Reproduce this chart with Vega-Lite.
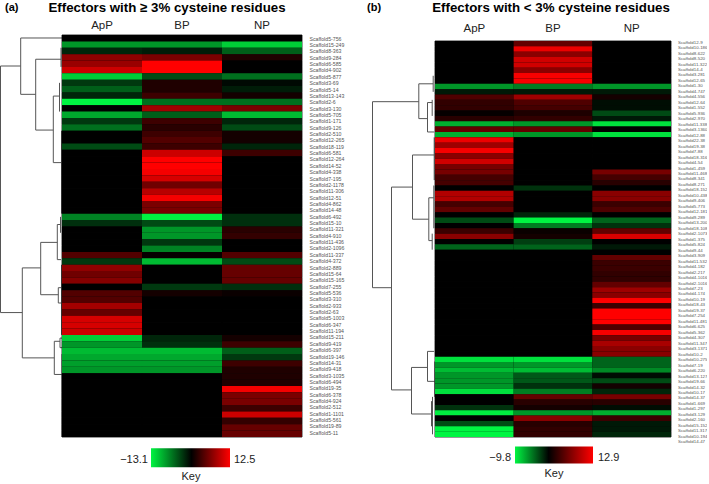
{"$schema":"https://vega.github.io/schema/vega-lite/v6.json","padding":{"left":0,"top":0,"right":0,"bottom":0},"background":"white","bounds":"flush","spacing":0,"resolve":{"scale":{"color":"independent"},"legend":{"color":"independent"}},"config":{"view":{"stroke":null},"font":"Liberation Sans"},
"datasets":{
"heatA":[
{"id":"Scaffold5-756","cond":"ApP","val":0},{"id":"Scaffold5-756","cond":"BP","val":0},{"id":"Scaffold5-756","cond":"NP","val":0},
{"id":"Scaffold15-249","cond":"ApP","val":-8},{"id":"Scaffold15-249","cond":"BP","val":-8},{"id":"Scaffold15-249","cond":"NP","val":-11},
{"id":"Scaffold8-363","cond":"ApP","val":-2},{"id":"Scaffold8-363","cond":"BP","val":-1.5},{"id":"Scaffold8-363","cond":"NP","val":-5},
{"id":"Scaffold9-284","cond":"ApP","val":7},{"id":"Scaffold9-284","cond":"BP","val":6},{"id":"Scaffold9-284","cond":"NP","val":1.5},
{"id":"Scaffold6-585","cond":"ApP","val":7.5},{"id":"Scaffold6-585","cond":"BP","val":12.5},{"id":"Scaffold6-585","cond":"NP","val":0},
{"id":"Scaffold4-902","cond":"ApP","val":10},{"id":"Scaffold4-902","cond":"BP","val":12.5},{"id":"Scaffold4-902","cond":"NP","val":0},
{"id":"Scaffold5-877","cond":"ApP","val":-11},{"id":"Scaffold5-877","cond":"BP","val":-4},{"id":"Scaffold5-877","cond":"NP","val":-6},
{"id":"Scaffold3-69","cond":"ApP","val":-3},{"id":"Scaffold3-69","cond":"BP","val":1.5},{"id":"Scaffold3-69","cond":"NP","val":-0.5},
{"id":"Scaffold5-14","cond":"ApP","val":-5},{"id":"Scaffold5-14","cond":"BP","val":1.5},{"id":"Scaffold5-14","cond":"NP","val":-1.5},
{"id":"Scaffold13-143","cond":"ApP","val":-2},{"id":"Scaffold13-143","cond":"BP","val":3},{"id":"Scaffold13-143","cond":"NP","val":1},
{"id":"Scaffold2-6","cond":"ApP","val":-13.1},{"id":"Scaffold2-6","cond":"BP","val":-6},{"id":"Scaffold2-6","cond":"NP","val":-6},
{"id":"Scaffold3-130","cond":"ApP","val":0},{"id":"Scaffold3-130","cond":"BP","val":8},{"id":"Scaffold3-130","cond":"NP","val":6},
{"id":"Scaffold5-705","cond":"ApP","val":-9},{"id":"Scaffold5-705","cond":"BP","val":-5},{"id":"Scaffold5-705","cond":"NP","val":-10},
{"id":"Scaffold1-171","cond":"ApP","val":-3},{"id":"Scaffold1-171","cond":"BP","val":3},{"id":"Scaffold1-171","cond":"NP","val":-2},
{"id":"Scaffold9-126","cond":"ApP","val":-6},{"id":"Scaffold9-126","cond":"BP","val":2},{"id":"Scaffold9-126","cond":"NP","val":-4},
{"id":"Scaffold2-510","cond":"ApP","val":0},{"id":"Scaffold2-510","cond":"BP","val":3},{"id":"Scaffold2-510","cond":"NP","val":1},
{"id":"Scaffold12-265","cond":"ApP","val":0},{"id":"Scaffold12-265","cond":"BP","val":4},{"id":"Scaffold12-265","cond":"NP","val":1},
{"id":"Scaffold18-119","cond":"ApP","val":-4},{"id":"Scaffold18-119","cond":"BP","val":3},{"id":"Scaffold18-119","cond":"NP","val":-2},
{"id":"Scaffold6-581","cond":"ApP","val":0},{"id":"Scaffold6-581","cond":"BP","val":10},{"id":"Scaffold6-581","cond":"NP","val":3},
{"id":"Scaffold12-264","cond":"ApP","val":0},{"id":"Scaffold12-264","cond":"BP","val":12.5},{"id":"Scaffold12-264","cond":"NP","val":0},
{"id":"Scaffold14-52","cond":"ApP","val":0},{"id":"Scaffold14-52","cond":"BP","val":12.5},{"id":"Scaffold14-52","cond":"NP","val":0},
{"id":"Scaffold4-338","cond":"ApP","val":0},{"id":"Scaffold4-338","cond":"BP","val":12},{"id":"Scaffold4-338","cond":"NP","val":0},
{"id":"Scaffold7-195","cond":"ApP","val":0},{"id":"Scaffold7-195","cond":"BP","val":10.5},{"id":"Scaffold7-195","cond":"NP","val":0},
{"id":"Scaffold2-1178","cond":"ApP","val":0},{"id":"Scaffold2-1178","cond":"BP","val":5.5},{"id":"Scaffold2-1178","cond":"NP","val":0},
{"id":"Scaffold11-306","cond":"ApP","val":0},{"id":"Scaffold11-306","cond":"BP","val":9},{"id":"Scaffold11-306","cond":"NP","val":0},
{"id":"Scaffold12-51","cond":"ApP","val":0},{"id":"Scaffold12-51","cond":"BP","val":12},{"id":"Scaffold12-51","cond":"NP","val":0},
{"id":"Scaffold4-862","cond":"ApP","val":0},{"id":"Scaffold4-862","cond":"BP","val":6},{"id":"Scaffold4-862","cond":"NP","val":0},
{"id":"Scaffold14-48","cond":"ApP","val":0},{"id":"Scaffold14-48","cond":"BP","val":6},{"id":"Scaffold14-48","cond":"NP","val":0},
{"id":"Scaffold6-492","cond":"ApP","val":-7},{"id":"Scaffold6-492","cond":"BP","val":-13},{"id":"Scaffold6-492","cond":"NP","val":-2.5},
{"id":"Scaffold15-10","cond":"ApP","val":-2.5},{"id":"Scaffold15-10","cond":"BP","val":-4},{"id":"Scaffold15-10","cond":"NP","val":-2.5},
{"id":"Scaffold11-321","cond":"ApP","val":0},{"id":"Scaffold11-321","cond":"BP","val":-8},{"id":"Scaffold11-321","cond":"NP","val":2},
{"id":"Scaffold4-910","cond":"ApP","val":0},{"id":"Scaffold4-910","cond":"BP","val":-8},{"id":"Scaffold4-910","cond":"NP","val":2.5},
{"id":"Scaffold11-436","cond":"ApP","val":0},{"id":"Scaffold11-436","cond":"BP","val":-3},{"id":"Scaffold11-436","cond":"NP","val":0},
{"id":"Scaffold2-1096","cond":"ApP","val":0},{"id":"Scaffold2-1096","cond":"BP","val":-7},{"id":"Scaffold2-1096","cond":"NP","val":0},
{"id":"Scaffold11-337","cond":"ApP","val":4},{"id":"Scaffold11-337","cond":"BP","val":0.3},{"id":"Scaffold11-337","cond":"NP","val":4},
{"id":"Scaffold4-372","cond":"ApP","val":-3},{"id":"Scaffold4-372","cond":"BP","val":-10},{"id":"Scaffold4-372","cond":"NP","val":-4},
{"id":"Scaffold2-889","cond":"ApP","val":7},{"id":"Scaffold2-889","cond":"BP","val":0},{"id":"Scaffold2-889","cond":"NP","val":5},
{"id":"Scaffold15-64","cond":"ApP","val":5.5},{"id":"Scaffold15-64","cond":"BP","val":0},{"id":"Scaffold15-64","cond":"NP","val":5},
{"id":"Scaffold15-165","cond":"ApP","val":6.5},{"id":"Scaffold15-165","cond":"BP","val":0},{"id":"Scaffold15-165","cond":"NP","val":5},
{"id":"Scaffold7-255","cond":"ApP","val":0},{"id":"Scaffold7-255","cond":"BP","val":-3},{"id":"Scaffold7-255","cond":"NP","val":-2.5},
{"id":"Scaffold5-536","cond":"ApP","val":4},{"id":"Scaffold5-536","cond":"BP","val":1},{"id":"Scaffold5-536","cond":"NP","val":0.5},
{"id":"Scaffold3-310","cond":"ApP","val":4},{"id":"Scaffold3-310","cond":"BP","val":0},{"id":"Scaffold3-310","cond":"NP","val":0},
{"id":"Scaffold2-933","cond":"ApP","val":8},{"id":"Scaffold2-933","cond":"BP","val":0},{"id":"Scaffold2-933","cond":"NP","val":0},
{"id":"Scaffold2-63","cond":"ApP","val":5},{"id":"Scaffold2-63","cond":"BP","val":0},{"id":"Scaffold2-63","cond":"NP","val":0},
{"id":"Scaffold5-1003","cond":"ApP","val":10.5},{"id":"Scaffold5-1003","cond":"BP","val":0},{"id":"Scaffold5-1003","cond":"NP","val":0},
{"id":"Scaffold6-347","cond":"ApP","val":10.5},{"id":"Scaffold6-347","cond":"BP","val":0},{"id":"Scaffold6-347","cond":"NP","val":0},
{"id":"Scaffold11-194","cond":"ApP","val":10},{"id":"Scaffold11-194","cond":"BP","val":0},{"id":"Scaffold11-194","cond":"NP","val":0},
{"id":"Scaffold15-211","cond":"ApP","val":-11},{"id":"Scaffold15-211","cond":"BP","val":-2},{"id":"Scaffold15-211","cond":"NP","val":1},
{"id":"Scaffold9-419","cond":"ApP","val":-8},{"id":"Scaffold9-419","cond":"BP","val":-2.5},{"id":"Scaffold9-419","cond":"NP","val":3},
{"id":"Scaffold6-397","cond":"ApP","val":-10},{"id":"Scaffold6-397","cond":"BP","val":-10},{"id":"Scaffold6-397","cond":"NP","val":-5},
{"id":"Scaffold19-146","cond":"ApP","val":-9},{"id":"Scaffold19-146","cond":"BP","val":-9},{"id":"Scaffold19-146","cond":"NP","val":-3},
{"id":"Scaffold14-31","cond":"ApP","val":-8.5},{"id":"Scaffold14-31","cond":"BP","val":-8.5},{"id":"Scaffold14-31","cond":"NP","val":3},
{"id":"Scaffold9-418","cond":"ApP","val":-8},{"id":"Scaffold9-418","cond":"BP","val":-8},{"id":"Scaffold9-418","cond":"NP","val":1.5},
{"id":"Scaffold3-1035","cond":"ApP","val":0},{"id":"Scaffold3-1035","cond":"BP","val":0},{"id":"Scaffold3-1035","cond":"NP","val":1.5},
{"id":"Scaffold6-494","cond":"ApP","val":0},{"id":"Scaffold6-494","cond":"BP","val":0},{"id":"Scaffold6-494","cond":"NP","val":1.5},
{"id":"Scaffold19-35","cond":"ApP","val":0},{"id":"Scaffold19-35","cond":"BP","val":0},{"id":"Scaffold19-35","cond":"NP","val":12},
{"id":"Scaffold6-378","cond":"ApP","val":0},{"id":"Scaffold6-378","cond":"BP","val":0},{"id":"Scaffold6-378","cond":"NP","val":6},
{"id":"Scaffold4-924","cond":"ApP","val":0},{"id":"Scaffold4-924","cond":"BP","val":0},{"id":"Scaffold4-924","cond":"NP","val":6},
{"id":"Scaffold2-512","cond":"ApP","val":0},{"id":"Scaffold2-512","cond":"BP","val":0},{"id":"Scaffold2-512","cond":"NP","val":3},
{"id":"Scaffold1-1101","cond":"ApP","val":0},{"id":"Scaffold1-1101","cond":"BP","val":0},{"id":"Scaffold1-1101","cond":"NP","val":10},
{"id":"Scaffold5-561","cond":"ApP","val":0},{"id":"Scaffold5-561","cond":"BP","val":0},{"id":"Scaffold5-561","cond":"NP","val":2.5},
{"id":"Scaffold19-89","cond":"ApP","val":0},{"id":"Scaffold19-89","cond":"BP","val":0},{"id":"Scaffold19-89","cond":"NP","val":5},
{"id":"Scaffold5-11","cond":"ApP","val":0},{"id":"Scaffold5-11","cond":"BP","val":0},{"id":"Scaffold5-11","cond":"NP","val":5}
],
"heatB":[
{"id":"Scaffold12-9","cond":"ApP","val":0},{"id":"Scaffold12-9","cond":"BP","val":5},{"id":"Scaffold12-9","cond":"NP","val":0},
{"id":"Scaffold10-186","cond":"ApP","val":0},{"id":"Scaffold10-186","cond":"BP","val":12},{"id":"Scaffold10-186","cond":"NP","val":0},
{"id":"Scaffold8-622","cond":"ApP","val":0},{"id":"Scaffold8-622","cond":"BP","val":7},{"id":"Scaffold8-622","cond":"NP","val":0},
{"id":"Scaffold8-520","cond":"ApP","val":0},{"id":"Scaffold8-520","cond":"BP","val":10.5},{"id":"Scaffold8-520","cond":"NP","val":0},
{"id":"Scaffold11-322","cond":"ApP","val":0},{"id":"Scaffold11-322","cond":"BP","val":10.5},{"id":"Scaffold11-322","cond":"NP","val":0},
{"id":"Scaffold14-4","cond":"ApP","val":0},{"id":"Scaffold14-4","cond":"BP","val":7},{"id":"Scaffold14-4","cond":"NP","val":0},
{"id":"Scaffold3-281","cond":"ApP","val":0},{"id":"Scaffold3-281","cond":"BP","val":12.5},{"id":"Scaffold3-281","cond":"NP","val":0},
{"id":"Scaffold12-65","cond":"ApP","val":0},{"id":"Scaffold12-65","cond":"BP","val":12.5},{"id":"Scaffold12-65","cond":"NP","val":0},
{"id":"Scaffold1-30","cond":"ApP","val":-6},{"id":"Scaffold1-30","cond":"BP","val":-5},{"id":"Scaffold1-30","cond":"NP","val":-6},
{"id":"Scaffold4-747","cond":"ApP","val":-1},{"id":"Scaffold4-747","cond":"BP","val":-1},{"id":"Scaffold4-747","cond":"NP","val":-1},
{"id":"Scaffold4-556","cond":"ApP","val":4},{"id":"Scaffold4-556","cond":"BP","val":8},{"id":"Scaffold4-556","cond":"NP","val":1},
{"id":"Scaffold12-64","cond":"ApP","val":2.5},{"id":"Scaffold12-64","cond":"BP","val":4},{"id":"Scaffold12-64","cond":"NP","val":-0.5},
{"id":"Scaffold1-552","cond":"ApP","val":2.5},{"id":"Scaffold1-552","cond":"BP","val":3.5},{"id":"Scaffold1-552","cond":"NP","val":-0.5},
{"id":"Scaffold5-936","cond":"ApP","val":0.3},{"id":"Scaffold5-936","cond":"BP","val":1.5},{"id":"Scaffold5-936","cond":"NP","val":-3},
{"id":"Scaffold2-970","cond":"ApP","val":2},{"id":"Scaffold2-970","cond":"BP","val":2.5},{"id":"Scaffold2-970","cond":"NP","val":-1},
{"id":"Scaffold11-338","cond":"ApP","val":-7},{"id":"Scaffold11-338","cond":"BP","val":-6},{"id":"Scaffold11-338","cond":"NP","val":-9},
{"id":"Scaffold3-1360","cond":"ApP","val":5},{"id":"Scaffold3-1360","cond":"BP","val":5},{"id":"Scaffold3-1360","cond":"NP","val":0},
{"id":"Scaffold12-88","cond":"ApP","val":-7},{"id":"Scaffold12-88","cond":"BP","val":-6},{"id":"Scaffold12-88","cond":"NP","val":-9},
{"id":"Scaffold22-38","cond":"ApP","val":12},{"id":"Scaffold22-38","cond":"BP","val":0},{"id":"Scaffold22-38","cond":"NP","val":0},
{"id":"Scaffold19-38","cond":"ApP","val":8},{"id":"Scaffold19-38","cond":"BP","val":0},{"id":"Scaffold19-38","cond":"NP","val":0},
{"id":"Scaffold7-88","cond":"ApP","val":12.5},{"id":"Scaffold7-88","cond":"BP","val":0},{"id":"Scaffold7-88","cond":"NP","val":0},
{"id":"Scaffold18-316","cond":"ApP","val":7},{"id":"Scaffold18-316","cond":"BP","val":0},{"id":"Scaffold18-316","cond":"NP","val":0},
{"id":"Scaffold4-54","cond":"ApP","val":10.5},{"id":"Scaffold4-54","cond":"BP","val":0},{"id":"Scaffold4-54","cond":"NP","val":0},
{"id":"Scaffold1-459","cond":"ApP","val":6},{"id":"Scaffold1-459","cond":"BP","val":0},{"id":"Scaffold1-459","cond":"NP","val":0},
{"id":"Scaffold11-468","cond":"ApP","val":6},{"id":"Scaffold11-468","cond":"BP","val":0},{"id":"Scaffold11-468","cond":"NP","val":6},
{"id":"Scaffold8-341","cond":"ApP","val":3.5},{"id":"Scaffold8-341","cond":"BP","val":0},{"id":"Scaffold8-341","cond":"NP","val":3.5},
{"id":"Scaffold8-271","cond":"ApP","val":3.5},{"id":"Scaffold8-271","cond":"BP","val":0},{"id":"Scaffold8-271","cond":"NP","val":2},
{"id":"Scaffold18-152","cond":"ApP","val":0},{"id":"Scaffold18-152","cond":"BP","val":-2},{"id":"Scaffold18-152","cond":"NP","val":0},
{"id":"Scaffold10-438","cond":"ApP","val":9},{"id":"Scaffold10-438","cond":"BP","val":0},{"id":"Scaffold10-438","cond":"NP","val":7},
{"id":"Scaffold9-406","cond":"ApP","val":9},{"id":"Scaffold9-406","cond":"BP","val":0},{"id":"Scaffold9-406","cond":"NP","val":7},
{"id":"Scaffold5-773","cond":"ApP","val":3.5},{"id":"Scaffold5-773","cond":"BP","val":0},{"id":"Scaffold5-773","cond":"NP","val":3},
{"id":"Scaffold12-181","cond":"ApP","val":5},{"id":"Scaffold12-181","cond":"BP","val":0},{"id":"Scaffold12-181","cond":"NP","val":4},
{"id":"Scaffold9-289","cond":"ApP","val":0},{"id":"Scaffold9-289","cond":"BP","val":-1.5},{"id":"Scaffold9-289","cond":"NP","val":0},
{"id":"Scaffold13-200","cond":"ApP","val":-3},{"id":"Scaffold13-200","cond":"BP","val":-9.8},{"id":"Scaffold13-200","cond":"NP","val":-4},
{"id":"Scaffold18-108","cond":"ApP","val":0},{"id":"Scaffold18-108","cond":"BP","val":-5},{"id":"Scaffold18-108","cond":"NP","val":-2},
{"id":"Scaffold2-1073","cond":"ApP","val":3},{"id":"Scaffold2-1073","cond":"BP","val":0.5},{"id":"Scaffold2-1073","cond":"NP","val":5},
{"id":"Scaffold1-375","cond":"ApP","val":7},{"id":"Scaffold1-375","cond":"BP","val":1},{"id":"Scaffold1-375","cond":"NP","val":11},
{"id":"Scaffold5-824","cond":"ApP","val":0},{"id":"Scaffold5-824","cond":"BP","val":-2.5},{"id":"Scaffold5-824","cond":"NP","val":0},
{"id":"Scaffold9-44","cond":"ApP","val":-4},{"id":"Scaffold9-44","cond":"BP","val":-4},{"id":"Scaffold9-44","cond":"NP","val":-1},
{"id":"Scaffold3-909","cond":"ApP","val":0},{"id":"Scaffold3-909","cond":"BP","val":0},{"id":"Scaffold3-909","cond":"NP","val":0},
{"id":"Scaffold11-532","cond":"ApP","val":0},{"id":"Scaffold11-532","cond":"BP","val":0},{"id":"Scaffold11-532","cond":"NP","val":5},
{"id":"Scaffold4-182","cond":"ApP","val":0},{"id":"Scaffold4-182","cond":"BP","val":0},{"id":"Scaffold4-182","cond":"NP","val":3},
{"id":"Scaffold2-217","cond":"ApP","val":0},{"id":"Scaffold2-217","cond":"BP","val":0},{"id":"Scaffold2-217","cond":"NP","val":3},
{"id":"Scaffold4-1016","cond":"ApP","val":0},{"id":"Scaffold4-1016","cond":"BP","val":0},{"id":"Scaffold4-1016","cond":"NP","val":2.5},
{"id":"Scaffold2-1016","cond":"ApP","val":0},{"id":"Scaffold2-1016","cond":"BP","val":0},{"id":"Scaffold2-1016","cond":"NP","val":2.5},
{"id":"Scaffold7-23","cond":"ApP","val":0},{"id":"Scaffold7-23","cond":"BP","val":0},{"id":"Scaffold7-23","cond":"NP","val":5},
{"id":"Scaffold4-174","cond":"ApP","val":0},{"id":"Scaffold4-174","cond":"BP","val":0},{"id":"Scaffold4-174","cond":"NP","val":8},
{"id":"Scaffold10-19","cond":"ApP","val":0},{"id":"Scaffold10-19","cond":"BP","val":0},{"id":"Scaffold10-19","cond":"NP","val":7},
{"id":"Scaffold18-43","cond":"ApP","val":0},{"id":"Scaffold18-43","cond":"BP","val":0},{"id":"Scaffold18-43","cond":"NP","val":12.9},
{"id":"Scaffold19-37","cond":"ApP","val":0},{"id":"Scaffold19-37","cond":"BP","val":0},{"id":"Scaffold19-37","cond":"NP","val":3},
{"id":"Scaffold7-254","cond":"ApP","val":0},{"id":"Scaffold7-254","cond":"BP","val":0},{"id":"Scaffold7-254","cond":"NP","val":12.9},
{"id":"Scaffold11-481","cond":"ApP","val":0},{"id":"Scaffold11-481","cond":"BP","val":0},{"id":"Scaffold11-481","cond":"NP","val":12.9},
{"id":"Scaffold6-625","cond":"ApP","val":0},{"id":"Scaffold6-625","cond":"BP","val":0},{"id":"Scaffold6-625","cond":"NP","val":12.9},
{"id":"Scaffold5-362","cond":"ApP","val":0},{"id":"Scaffold5-362","cond":"BP","val":0},{"id":"Scaffold5-362","cond":"NP","val":4},
{"id":"Scaffold4-307","cond":"ApP","val":0},{"id":"Scaffold4-307","cond":"BP","val":0},{"id":"Scaffold4-307","cond":"NP","val":12.5},
{"id":"Scaffold11-347","cond":"ApP","val":0},{"id":"Scaffold11-347","cond":"BP","val":0},{"id":"Scaffold11-347","cond":"NP","val":6},
{"id":"Scaffold3-1371","cond":"ApP","val":0},{"id":"Scaffold3-1371","cond":"BP","val":0},{"id":"Scaffold3-1371","cond":"NP","val":8.5},
{"id":"Scaffold10-2","cond":"ApP","val":0},{"id":"Scaffold10-2","cond":"BP","val":0},{"id":"Scaffold10-2","cond":"NP","val":7},
{"id":"Scaffold10-275","cond":"ApP","val":0},{"id":"Scaffold10-275","cond":"BP","val":0},{"id":"Scaffold10-275","cond":"NP","val":7},
{"id":"Scaffold7-19","cond":"ApP","val":-9},{"id":"Scaffold7-19","cond":"BP","val":-9},{"id":"Scaffold7-19","cond":"NP","val":-4},
{"id":"Scaffold6-220","cond":"ApP","val":-6},{"id":"Scaffold6-220","cond":"BP","val":-6},{"id":"Scaffold6-220","cond":"NP","val":-4},
{"id":"Scaffold13-127","cond":"ApP","val":-7.5},{"id":"Scaffold13-127","cond":"BP","val":-7.5},{"id":"Scaffold13-127","cond":"NP","val":-5.5},
{"id":"Scaffold19-66","cond":"ApP","val":-6},{"id":"Scaffold19-66","cond":"BP","val":-3.5},{"id":"Scaffold19-66","cond":"NP","val":-0.5},
{"id":"Scaffold14-32","cond":"ApP","val":-6},{"id":"Scaffold14-32","cond":"BP","val":-3.5},{"id":"Scaffold14-32","cond":"NP","val":-3},
{"id":"Scaffold10-17","cond":"ApP","val":-6},{"id":"Scaffold10-17","cond":"BP","val":-2},{"id":"Scaffold10-17","cond":"NP","val":1},
{"id":"Scaffold14-37","cond":"ApP","val":-9},{"id":"Scaffold14-37","cond":"BP","val":-5},{"id":"Scaffold14-37","cond":"NP","val":-1.5},
{"id":"Scaffold1-669","cond":"ApP","val":0},{"id":"Scaffold1-669","cond":"BP","val":5},{"id":"Scaffold1-669","cond":"NP","val":6},
{"id":"Scaffold1-297","cond":"ApP","val":0},{"id":"Scaffold1-297","cond":"BP","val":2},{"id":"Scaffold1-297","cond":"NP","val":2},
{"id":"Scaffold3-129","cond":"ApP","val":-2},{"id":"Scaffold3-129","cond":"BP","val":1},{"id":"Scaffold3-129","cond":"NP","val":-0.5},
{"id":"Scaffold2-160","cond":"ApP","val":-9.5},{"id":"Scaffold2-160","cond":"BP","val":-6},{"id":"Scaffold2-160","cond":"NP","val":-7},
{"id":"Scaffold15-152","cond":"ApP","val":0},{"id":"Scaffold15-152","cond":"BP","val":7},{"id":"Scaffold15-152","cond":"NP","val":3},
{"id":"Scaffold11-317","cond":"ApP","val":-3},{"id":"Scaffold11-317","cond":"BP","val":2},{"id":"Scaffold11-317","cond":"NP","val":-1},
{"id":"Scaffold10-194","cond":"ApP","val":-9.8},{"id":"Scaffold10-194","cond":"BP","val":2.5},{"id":"Scaffold10-194","cond":"NP","val":-1},
{"id":"Scaffold14-47","cond":"ApP","val":-9.8},{"id":"Scaffold14-47","cond":"BP","val":2.5},{"id":"Scaffold14-47","cond":"NP","val":-1.5}
],
"treeA":[
{"h1":0.5,"h2":0.5,"r1":4.86,"r2":43.5},{"h1":0.5,"h2":20.7,"r1":4.86,"r2":4.86},{"h1":0.5,"h2":22.3,"r1":43.5,"r2":43.5},
{"h1":20.7,"h2":20.7,"r1":0.47,"r2":9.3},{"h1":20.7,"h2":62,"r1":0.47,"r2":0.47},{"h1":20.7,"h2":35.7,"r1":9.3,"r2":9.3},
{"h1":35.7,"h2":35.7,"r1":3.8,"r2":14.9},{"h1":35.7,"h2":61,"r1":3.8,"r2":3.8},{"h1":61,"h2":61,"r1":2,"r2":5},
{"h1":35.7,"h2":53.3,"r1":14.9,"r2":14.9},{"h1":53.3,"h2":53.3,"r1":9.57,"r2":20},{"h1":53.3,"h2":59.5,"r1":9.57,"r2":9.57},
{"h1":53.3,"h2":61,"r1":20,"r2":20},{"h1":59.5,"h2":59.5,"r1":7.5,"r2":12},{"h1":61.5,"h2":61.5,"r1":15,"r2":28},
{"h1":22.3,"h2":22.3,"r1":36.5,"r2":50.6},{"h1":22.3,"h2":40.7,"r1":36.5,"r2":36.5},{"h1":40.7,"h2":40.7,"r1":32.5,"r2":40.7},
{"h1":40.7,"h2":57.3,"r1":32.5,"r2":32.5},{"h1":57.3,"h2":57.3,"r1":29.7,"r2":35.2},{"h1":57.3,"h2":60.5,"r1":29.7,"r2":29.7},
{"h1":57.3,"h2":61,"r1":35.2,"r2":35.2},{"h1":60.5,"h2":60.5,"r1":28.5,"r2":31},{"h1":40.7,"h2":58.3,"r1":40.7,"r2":40.7},
{"h1":58.3,"h2":58.3,"r1":39.6,"r2":42},{"h1":58.3,"h2":61.5,"r1":39.6,"r2":39.6},{"h1":58.3,"h2":61.5,"r1":42,"r2":42},
{"h1":22.3,"h2":54.3,"r1":50.6,"r2":50.6},{"h1":54.3,"h2":54.3,"r1":48,"r2":53.2},{"h1":54.3,"h2":60,"r1":48,"r2":48},
{"h1":60,"h2":60,"r1":47.5,"r2":49},{"h1":60,"h2":62,"r1":47.5,"r2":47.5},{"h1":60,"h2":62,"r1":49,"r2":49},
{"h1":54.3,"h2":62,"r1":53.2,"r2":53.2},{"h1":62,"h2":62,"r1":50,"r2":63},{"h1":61.5,"h2":61.5,"r1":36,"r2":47}
],
"treeB":[
{"h1":0.5,"h2":0.5,"r1":11.34,"r2":46.1},{"h1":0.5,"h2":46.8,"r1":11.34,"r2":11.34},{"h1":0.5,"h2":19.5,"r1":46.1,"r2":46.1},
{"h1":46.8,"h2":46.8,"r1":8,"r2":14.5},{"h1":46.8,"h2":61.2,"r1":8,"r2":8},{"h1":61.2,"h2":61.2,"r1":6.5,"r2":9.5},
{"h1":46.8,"h2":55.5,"r1":14.5,"r2":14.5},{"h1":55.5,"h2":55.5,"r1":11.5,"r2":17},{"h1":55.5,"h2":60.2,"r1":11.5,"r2":11.5},
{"h1":60.2,"h2":60.2,"r1":11,"r2":14},{"h1":55.5,"h2":62.2,"r1":17,"r2":17},
{"h1":19.5,"h2":19.5,"r1":27.3,"r2":65.2},{"h1":19.5,"h2":40.5,"r1":27.3,"r2":27.3},{"h1":40.5,"h2":40.5,"r1":21.3,"r2":33.3},
{"h1":40.5,"h2":62.2,"r1":21.3,"r2":21.3},{"h1":62.2,"h2":62.2,"r1":18,"r2":26},{"h1":40.5,"h2":56.8,"r1":33.3,"r2":33.3},
{"h1":56.8,"h2":56.8,"r1":29.3,"r2":37.3},{"h1":56.8,"h2":61.8,"r1":29.3,"r2":29.3},{"h1":61.8,"h2":61.8,"r1":27,"r2":35},
{"h1":56.8,"h2":60.2,"r1":37.3,"r2":37.3},{"h1":60.2,"h2":60.2,"r1":36,"r2":39},
{"h1":19.5,"h2":39.5,"r1":65.2,"r2":65.2},{"h1":39.5,"h2":39.5,"r1":61,"r2":69.7},{"h1":39.5,"h2":55.5,"r1":61,"r2":61},
{"h1":55.5,"h2":55.5,"r1":58,"r2":63.6},{"h1":55.5,"h2":62.2,"r1":58,"r2":58},{"h1":55.5,"h2":62.8,"r1":63.6,"r2":63.6},
{"h1":62.8,"h2":62.8,"r1":59.9,"r2":66.5},{"h1":39.5,"h2":59.5,"r1":69.7,"r2":69.7},{"h1":59.5,"h2":59.5,"r1":67.3,"r2":72},
{"h1":60.5,"h2":60.5,"r1":66.5,"r2":73.5}
]
},
"hconcat":[
{"width":62,"height":402,"title":{"text":"(a)","anchor":"start","frame":"group","fontSize":11,"fontWeight":"bold","dx":5,"offset":21.7},
 "data":{"name":"treeA"},"mark":{"type":"rule","color":"#555555","strokeWidth":1,"clip":false},
 "encoding":{"x":{"field":"h1","type":"quantitative","axis":null,"scale":{"domain":[0,62]}},"x2":{"field":"h2"},
 "y":{"field":"r1","type":"quantitative","axis":null,"scale":{"domain":[0,63],"range":[0,402]}},"y2":{"field":"r2"}}},
{"width":240,"height":402,"title":{"text":"Effectors with ≥ 3% cysteine residues","anchor":"middle","frame":"group","fontSize":13.3,"fontWeight":"bold","dx":-15,"offset":5.7},
 "data":{"name":"heatA"},"resolve":{"scale":{"y":"independent"},"axis":{"y":"independent"}},
 "layer":[
 {"mark":{"type":"rect","fill":"#000000","stroke":"#000000","strokeWidth":0.8},
  "encoding":{"x":{"field":"cond","type":"nominal","sort":null,"scale":{"paddingInner":0,"paddingOuter":0},"axis":{"orient":"top","title":null,"ticks":false,"domain":false,"labelAngle":0,"labelFontSize":11.5,"labelPadding":4.5,"labelColor":"#222222"}},
  "y":{"field":"id","type":"nominal","sort":null,"axis":null,"scale":{"paddingInner":0,"paddingOuter":0}}}},
 {"mark":{"type":"rect"},
  "encoding":{"x":{"field":"cond","type":"nominal","sort":null},
  "y":{"field":"id","type":"nominal","sort":null,"axis":null,"scale":{"paddingInner":0,"paddingOuter":0}},
  "color":{"field":"val","type":"quantitative","scale":{"domain":[-13.1,0,12.5],"range":["#00f542","#000000","#ff0000"],"interpolate":"rgb"},
   "legend":{"orient":"none","legendX":89,"legendY":413.3,"direction":"horizontal","gradientLength":79,"gradientThickness":19,"title":"Key","titleOrient":"bottom","titleAnchor":"middle","titleFontSize":11,"titleFontWeight":"normal","titlePadding":4,"titleColor":"#222222","labelFontSize":11,"labelColor":"#222222","values":[-13.1,12.5],"format":".1f","labelOverlap":false,
   "encode":{"labels":{"update":{"align":{"signal":"datum.value<0?'right':'left'"},"dx":{"signal":"datum.value<0?-3:4"},"dy":{"value":-15}}}}}}}},
 {"mark":{"type":"rect","opacity":0},
  "encoding":{"y":{"field":"id","type":"nominal","sort":null,"scale":{"paddingInner":0,"paddingOuter":0,"range":[0.5,401]},"axis":{"orient":"right","title":null,"ticks":false,"domain":false,"labelFontSize":5.2,"labelColor":"#555555","labelPadding":7,"labelOverlap":false,"labelFlush":false}}}}
 ]},
{"width":133,"height":402,"title":{"text":"(b)","anchor":"start","frame":"group","fontSize":11,"fontWeight":"bold","dx":65,"offset":21.7},
 "data":{"name":"treeB"},"mark":{"type":"rule","color":"#555555","strokeWidth":1,"clip":false},
 "encoding":{"x":{"field":"h1","type":"quantitative","axis":null,"scale":{"domain":[-70,63]}},"x2":{"field":"h2"},
 "y":{"field":"r1","type":"quantitative","axis":null,"scale":{"domain":[0,74],"range":[6,402]}},"y2":{"field":"r2"}}},
{"width":236,"height":402,"title":{"text":"Effectors with < 3% cysteine residues","anchor":"middle","frame":"group","fontSize":13.3,"fontWeight":"bold","dx":-2,"offset":8.2},
 "data":{"name":"heatB"},"resolve":{"scale":{"y":"independent"},"axis":{"y":"independent"}},
 "layer":[
 {"mark":{"type":"rect","fill":"#000000","stroke":"#000000","strokeWidth":0.8},
  "encoding":{"x":{"field":"cond","type":"nominal","sort":null,"scale":{"paddingInner":0,"paddingOuter":0},"axis":{"orient":"top","title":null,"ticks":false,"domain":false,"labelAngle":0,"labelFontSize":11.5,"labelPadding":2,"labelColor":"#222222"}},
  "y":{"field":"id","type":"nominal","sort":null,"axis":null,"scale":{"paddingInner":0,"paddingOuter":0,"range":[6,402]}}}},
 {"mark":{"type":"rect"},
  "encoding":{"x":{"field":"cond","type":"nominal","sort":null},
  "y":{"field":"id","type":"nominal","sort":null,"axis":null,"scale":{"paddingInner":0,"paddingOuter":0,"range":[6,402]}},
  "color":{"field":"val","type":"quantitative","scale":{"domain":[-9.8,0,12.9],"range":["#00f542","#000000","#ff0000"],"interpolate":"rgb"},
   "legend":{"orient":"none","legendX":80,"legendY":411.6,"direction":"horizontal","gradientLength":78,"gradientThickness":17,"title":"Key","titleOrient":"bottom","titleAnchor":"middle","titleFontSize":11,"titleFontWeight":"normal","titlePadding":4,"titleColor":"#222222","labelFontSize":11,"labelColor":"#222222","values":[-9.8,12.9],"format":".1f","labelOverlap":false,
   "encode":{"labels":{"update":{"align":{"signal":"datum.value<0?'right':'left'"},"dx":{"signal":"datum.value<0?-4:5"},"dy":{"value":-14}}}}}}}},
 {"mark":{"type":"rect","opacity":0},
  "encoding":{"y":{"field":"id","type":"nominal","sort":null,"scale":{"paddingInner":0,"paddingOuter":0,"range":[4.9,410]},"axis":{"orient":"right","title":null,"ticks":false,"domain":false,"labelFontSize":4.4,"labelColor":"#555555","labelPadding":6.5,"labelOverlap":false,"labelFlush":false}}}}
 ]}
]}
